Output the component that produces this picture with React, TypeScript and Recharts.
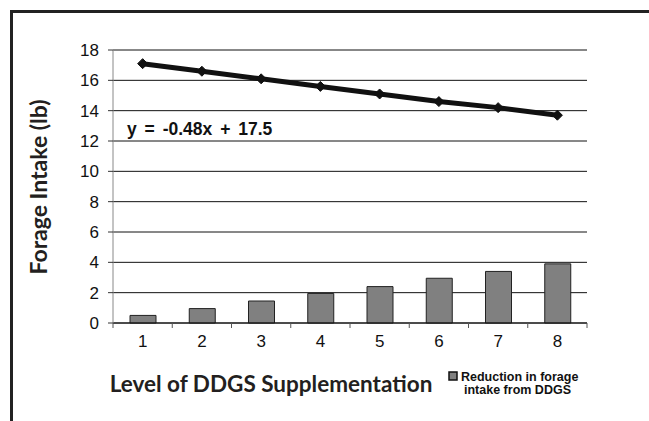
import { ComposedChart, Bar, Line, XAxis, YAxis, CartesianGrid } from "recharts";

// DDGS supplementation levels and forage intake (lb/day)
const levels = [1, 2, 3, 4, 5, 6, 7, 8];
const forageIntake = [17.1, 16.6, 16.1, 15.6, 15.1, 14.6, 14.2, 13.7];
const intakeReduction = [0.5, 0.95, 1.45, 1.95, 2.4, 2.95, 3.4, 3.9];
const yTicks = [0, 2, 4, 6, 8, 10, 12, 14, 16, 18];
const equationText = "y = -0.48x + 17.5";

const chartData = levels.map((level, i) => ({
  level,
  intake: forageIntake[i],
  reduction: intakeReduction[i],
}));

const ARIAL = "'Liberation Sans', Arial, sans-serif";
const HUMANIST = "Lato, 'Open Sans', sans-serif";

// category labels centred, with small tick marks on the band edges
function LevelTick(props: any) {
  const { x, y, payload, width, visibleTicksCount, index } = props;
  const half =
    payload && payload.offset ? payload.offset : width / (visibleTicksCount || 8) / 2;
  return (
    <g>
      {index === 0 && (
        <line x1={x - half} x2={x - half} y1={y - 5} y2={y} stroke="#555" strokeWidth={1} />
      )}
      <line x1={x + half} x2={x + half} y1={y - 5} y2={y} stroke="#555" strokeWidth={1} />
      <text
        x={x}
        y={y}
        dy={19}
        textAnchor="middle"
        fontSize={17}
        fontFamily={ARIAL}
        fill="#111"
      >
        {payload.value}
      </text>
    </g>
  );
}

function Diamond(props: any) {
  const { cx, cy } = props;
  if (cx == null || cy == null) return null;
  const r = 5;
  return (
    <path
      d={`M${cx},${cy - r} L${cx + r},${cy} L${cx},${cy + r} L${cx - r},${cy} Z`}
      fill="#111"
      stroke="#111"
    />
  );
}

export default function App() {
  return (
    <div
      style={{
        position: "absolute",
        left: 0,
        top: 0,
        width: 649,
        height: 421,
        background: "#fff",
        overflow: "hidden",
      }}
    >
      <div
        style={{
          position: "absolute",
          left: 10,
          top: 10,
          right: 0,
          bottom: 0,
          borderLeft: "3px solid #222",
          borderTop: "3px solid #222",
        }}
      />
      <ComposedChart
        width={649}
        height={421}
        data={chartData}
        margin={{ top: 50, right: 62, left: 0, bottom: 0 }}
      >
        <CartesianGrid vertical={false} stroke="#111" strokeWidth={1} />
        <XAxis
          dataKey="level"
          height={98}
          axisLine={{ stroke: "#111" }}
          tickLine={false}
          tickSize={5}
          tickMargin={0}
          interval={0}
          tick={<LevelTick />}
        />
        <YAxis
          domain={[0, 18]}
          ticks={yTicks}
          width={113}
          axisLine={{ stroke: "#888" }}
          tickLine={{ stroke: "#333" }}
          tickSize={5}
          tickMargin={9}
          tick={{ fontSize: 17, fontFamily: ARIAL, fill: "#111" }}
          interval={0}
        />
        <YAxis
          yAxisId="frame"
          orientation="right"
          domain={[0, 18]}
          width={0}
          tick={false}
          tickLine={false}
          axisLine={{ stroke: "#888" }}
        />
        <Bar
          dataKey="reduction"
          barSize={26}
          fill="#808080"
          stroke="#222"
          strokeWidth={1}
          isAnimationActive={false}
        />
        <Line
          type="linear"
          dataKey="intake"
          stroke="#111"
          strokeWidth={5}
          dot={<Diamond />}
          activeDot={false}
          isAnimationActive={false}
        />
      </ComposedChart>

      <svg
        width={649}
        height={421}
        style={{ position: "absolute", left: 0, top: 0, pointerEvents: "none" }}
      >
        <text
          x={127}
          y={135}
          fontSize={17.5}
          fontWeight={700}
          fontFamily={ARIAL}
          fill="#111"
          wordSpacing={3}
        >
          {equationText}
        </text>
        <text
          transform="translate(47,187) rotate(-90)"
          textAnchor="middle"
          fontSize={23}
          fontWeight={700}
          fontFamily={HUMANIST}
          fill="#231f20"
        >
          Forage Intake (lb)
        </text>
        <text
          x={271}
          y={392}
          textAnchor="middle"
          fontSize={22.5}
          fontWeight={700}
          fontFamily={HUMANIST}
          fill="#231f20"
        >
          Level of DDGS Supplementation
        </text>
        <rect x={449} y={372} width={8} height={8} fill="#808080" stroke="#111" strokeWidth={1.5} />
        <text x={461} y={381} fontSize={12.5} fontWeight={700} fontFamily={ARIAL} fill="#111">
          Reduction in forage
        </text>
        <text x={464} y={394} fontSize={12.5} fontWeight={700} fontFamily={ARIAL} fill="#111">
          intake from DDGS
        </text>
      </svg>
    </div>
  );
}
